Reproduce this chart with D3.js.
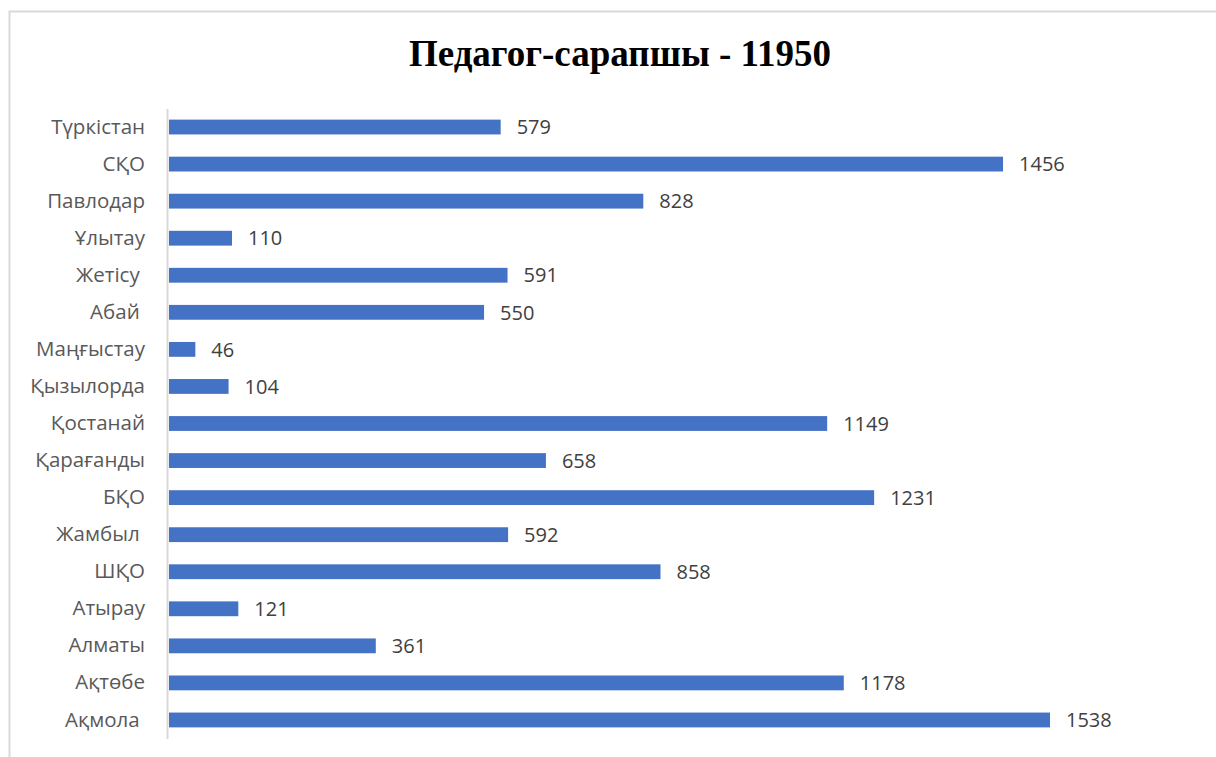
<!DOCTYPE html>
<html>
<head>
<meta charset="utf-8">
<script src="https://cdn.jsdelivr.net/npm/d3@7"></script>
<style>
  body { margin: 0; background: #fff; }
  text { white-space: pre; }
</style>
</head>
<body>
<script>
// horizontal bar chart: experts by region

const regions = ["Түркістан", "СҚО", "Павлодар", "Ұлытау", "Жетісу ", "Абай ", "Маңғыстау", "Қызылорда",
  "Қостанай", "Қарағанды", "БҚО", "Жамбыл ", "ШҚО", "Атырау", "Алматы", "Ақтөбе", "Ақмола "];
const counts = [579, 1456, 828, 110, 591, 550, 46, 104, 1149, 658, 1231, 592, 858, 121, 361, 1178, 1538];
const title = "Педагог-сарапшы - 11950";

const svgWidth = 1216;
const svgHeight = 757;

const svg = d3.select('body').append('svg')
  .attr('width', svgWidth)
  .attr('height', svgHeight);

// chart frame (runs off the right and bottom edge)
svg.append('rect')
  .attr('x', 9.5)
  .attr('y', 11.5)
  .attr('width', 1220)
  .attr('height', 760)
  .attr('fill', 'none')
  .attr('stroke', '#d9d9d9')
  .attr('stroke-width', 2);

svg.append('text')
  .attr('x', 620)
  .attr('y', 66)
  .attr('text-anchor', 'middle')
  .attr('font-family', '"Liberation Serif", "Times New Roman", serif')
  .attr('font-weight', 'bold')
  .attr('font-size', 37)
  .attr('fill', '#000')
  .text(title);

const xScale = d3.scaleLinear()
  .domain([0, d3.max(counts)])
  .range([169, 1050]);

const yScale = d3.scaleBand()
  .domain(regions)
  .range([108.5, 738.5])
  .paddingInner(0.6)
  .paddingOuter(0.3);

const rows = svg.selectAll('g.row')
  .data(regions)
  .enter()
  .append('g')
  .attr('class', 'row');

rows.append('rect')
  .attr('x', xScale(0))
  .attr('y', d => yScale(d))
  .attr('height', yScale.bandwidth())
  .attr('width', (d, i) => xScale(counts[i]) - xScale(0))
  .attr('fill', '#4472c4');

rows.append('text')
  .attr('x', (d, i) => xScale(counts[i]) + 16)
  .attr('y', d => yScale(d) + yScale.bandwidth() / 2)
  .attr('dy', '0.36em')
  .attr('font-family', '"Open Sans", "Noto Sans", sans-serif')
  .attr('font-size', 20)
  .attr('fill', '#404040')
  .text((d, i) => counts[i]);

// category axis
const yAxis = d3.axisLeft(yScale)
  .tickSize(0)
  .tickPadding(22);

const axis = svg.append('g')
  .attr('class', 'axis')
  .attr('transform', 'translate(167,0)')
  .call(yAxis);

axis.select('.domain')
  .attr('stroke', '#d9d9d9')
  .attr('stroke-width', 2);

axis.selectAll('text')
  .attr('font-family', '"Open Sans", "Noto Sans", sans-serif')
  .attr('font-size', 20.5)
  .attr('fill', '#595959');
</script>
</body>
</html>
